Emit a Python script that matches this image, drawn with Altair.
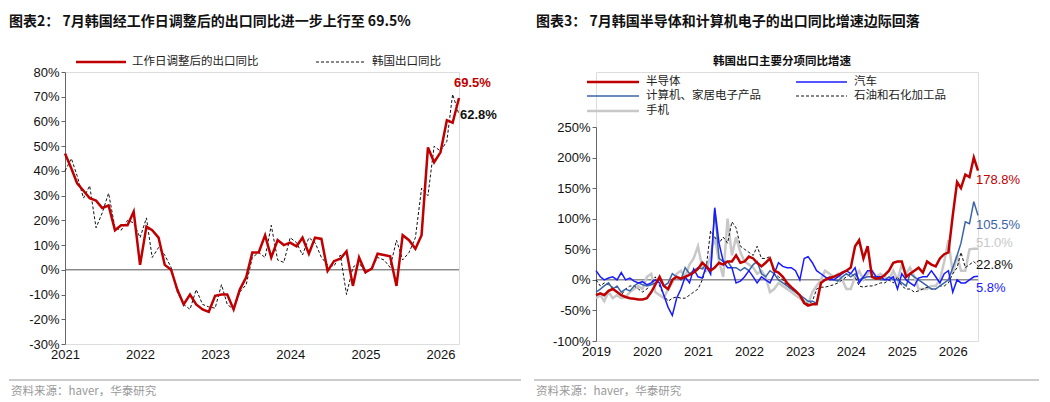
import altair as alt
import pandas as pd

# ---- left panel data (Jan 2021 - Apr 2026, monthly, %)
adj_export = [47, 41, 35, 32, 29, 28, 25, 26, 16, 18, 18, 23.5,
              2, 17.5, 16, 13, 2, 0, -8, -14, -10, -14, -16, -17,
              -10.5, -10, -10, -16, -8, -3, 7, 7, 14, 5, 12, 10,
              11, 9.5, 13, 6.5, 13, 12.5, -0.5, 3.5, 4.5, 7.5, -6.5, 5,
              -1, 0.5, 6.5, 6, 5.5, -6.5, 14, 12, 8.5, 14, 49.5, 43.5,
              47.5, 60.5, 59.5, 69.5]
raw_export = [40, 45, 38, 29, 34, 17, 23, 31, 17, 16, 20, 19,
              13, 21, 5, 9, 6, 1, -9, -14, -16, -8, -14, -15,
              -15.5, -6, -14, -16, -9, -6, 5, 7, 5, 18, 4, 3,
              13, 11, 6, 13, 11, 5, 2, 1.5, 6, -10, 1, 3,
              -1.5, 1, 5, 4, 1, 12, 4, 7, 13, 33, 30, 50,
              48, 52, 71, 62.8]

# ---- right panel data (Jan 2019 - Jul 2026, monthly, %)
semis = [-25, -22, -25, -18, -15, -20, -25, -28, -30, -31, -32, -32,
         -30, -20, -8, 5, -10, -15, 0, 5, 2, 5, 8, 12,
         18, 28, 22, 15, 20, 28, 25, 30, 30, 40, 28, 30,
         38, 35, 28, 22, 28, 35, 15, 12, 5, -5, -12, -18,
         -25, -38, -42, -40, -40, -5, 0, 3, 5, 8, 12, 15,
         20, 55, 65, 35, 55, 5, 2, 3, 8, 15, 28, 30,
         30, 5, 10, 15, 20, 12, 30, 25, 22, 35, 42, 45,
         105, 160, 150, 172, 168, 200, 178.8]
autos = [15, 5, 0, 3, 5, 0, 12, 0, 3, -2, -5, -3,
         -8, -5, 0, -5, -25, -45, -58, -30, -15, 5, -5, 18,
         5, 3, 22, 10, 118, 60, 30, 20, 20, -5, -2, 5,
         15, 5, -5, 5, 0, -5, 10, 28, 22, 20, 20, 15,
         0, 35, 38, 28, 15, 10, 5, 0, 0, 5, 10, 15,
         10, 20, -5, 5, 15, 15, 5, 5, 0, 0, 5, -15,
         10, 0, -5, -10, 3, 5, 5, 15, 5, -5, 10, 15,
         -20, 0, -5, -5, 0, 5, 5.8]
computers = [-20, -15, -10, -5, -15, -10, -20, -15, -18, -10, -5, -8,
             -10, -8, -5, 0, -10, -5, 10, 5, 0, 20, 10, 15,
             20, 18, 25, 10, 115, 35, 30, 30, 20, 20, 15, 20,
             15, 25, 30, 10, 5, 15, 10, 0, -5, -10, -15, -20,
             -25, -30, -35, -35, -38, -5, 0, 5, 0, -2, 5, 10,
             5, 10, 0, 3, 5, 5, 5, 0, 0, 5, 0, 0,
             -5, -10, 10, 5, 0, -5, -10, -15, -15, -10, -5, 0,
             20, 40, 60, 95, 92, 128, 105.5]
petro = [0, -10, -5, -8, -12, -20, -25, -15, -10, -10, -15, -20,
         -15, -5, 5, -10, -25, -35, -30, -28, -30, -30, -25, -20,
         -15, 0, 20, 80, 70, 60, 70, 60, 95, 85, 55, 50,
         45, 40, 55, 35, 35, 38, 10, 5, 0, -10, -15, -20,
         -25, -35, -40, -35, -15, -12, -12, -10, -8, -5, 0, 5,
         10, 5, -10, -12, -10, -10, -8, -5, -5, 0, -5, 5,
         -10, -15, -15, -20, -18, -15, -12, -15, -15, -10, -10, -5,
         10, 20, 45, 20, 25, 30, 22.8]
phones = [-30, -25, -35, -20, -30, -25, -30, -28, -20, -15, -10, -15,
          5, 10, -20, -25, -30, -15, -5, 10, 15, 5, 25, 35,
          55, 20, 15, 40, 70, 30, 5, 100, 40, 70, 45, 30,
          25, 20, 10, 15, 5, -20, -15, -5, -10, -15, -20, -25,
          -30, -35, -40, -20, -10, 0, 15, 10, 5, 10, 0, -15,
          -15, 5, 15, 0, 10, 15, 5, 10, 5, 0, 15, 0,
          25, 10, 20, 5, -15, -15, -15, -10, -10, 0, 30, 65,
          10, 40, 15, 15, 50, 51, 51.0]

FONT = "Noto Sans CJK SC"
NUM = "Liberation Sans"
RED, BLUE, STEEL, GRAY = "#C00000", "#1a1aff", "#3a64a8", "#c8c8c8"

left_dates = pd.date_range("2021-01-01", periods=len(adj_export), freq="MS")
right_dates = pd.date_range("2019-01-01", periods=len(semis), freq="MS")

left_df = pd.concat([
    pd.DataFrame({"date": left_dates, "v": adj_export, "s": "adj"}),
    pd.DataFrame({"date": left_dates, "v": raw_export, "s": "raw"}),
])
right_df = pd.concat([
    pd.DataFrame({"date": right_dates, "v": vals, "s": name})
    for name, vals in [("phones", phones), ("petro", petro), ("computers", computers),
                       ("autos", autos), ("semis", semis)]
])


def text(t, x, y, size=12, color="#222", weight="normal", font=FONT, align="left"):
    return alt.Chart(pd.DataFrame({"t": [t]})).mark_text(
        align=align, baseline="middle", fontSize=size, color=color, fontWeight=weight, font=font
    ).encode(text="t:N", x=alt.value(x), y=alt.value(y))


def seg(x1, x2, y, color, width=2.5, dash=None):
    kw = {"strokeDash": dash} if dash else {}
    return alt.Chart(pd.DataFrame({"a": [0]})).mark_rule(
        color=color, strokeWidth=width, **kw
    ).encode(x=alt.value(x1), x2=alt.value(x2), y=alt.value(y))


def axes(domain, dmin, dmax, step, yrange=None):
    x = alt.X("date:T", scale=alt.Scale(domain=domain), title=None,
              axis=alt.Axis(format="%Y", tickCount="year", grid=False, domain=False, ticks=False,
                            labelFlush=False, labelFont=NUM, labelFontSize=13,
                            labelColor="#111", labelPadding=4))
    sc = dict(domain=[dmin, dmax], nice=False)
    if yrange:
        sc["range"] = yrange
    y = alt.Y("v:Q", scale=alt.Scale(**sc), title=None,
              axis=alt.Axis(values=list(range(dmin, dmax + 1, step)), grid=False, labelOverlap=False,
                            labelExpr="datum.value + '%'", labelFont=NUM, labelFontSize=13,
                            labelColor="#111", domainColor="#666", tickColor="#666", tickSize=4))
    return x, y


# ---- left panel
LW, LH = 394, 272
lx, ly = axes(["2021-01-01", "2026-04-01"], -30, 80, 10)
base_l = alt.Chart(left_df).encode(x=lx, y=ly)
raw_line = base_l.transform_filter("datum.s == 'raw'").mark_line(
    color="#111", strokeWidth=1, strokeDash=[3, 2])
adj_line = base_l.transform_filter("datum.s == 'adj'").mark_line(color=RED, strokeWidth=2.5)
zero_l = alt.Chart(pd.DataFrame({"v": [0]})).mark_rule(color="#555").encode(y=ly)
lab_l = alt.Chart(pd.DataFrame({
    "date": pd.to_datetime(["2026-04-01", "2026-04-01"]), "v": [75.5, 62.5],
    "t": ["69.5%", "62.8%"], "c": [RED, "#111"], "dx": [-5, 1]})).encode(
    x=lx, y=ly, text="t:N", color=alt.Color("c:N", scale=None))
left = alt.layer(
    zero_l, raw_line, adj_line,
    lab_l.transform_filter("datum.dx < 0").mark_text(align="left", dx=-5, fontSize=13, fontWeight="bold", font=NUM),
    lab_l.transform_filter("datum.dx > 0").mark_text(align="left", dx=1, fontSize=13, fontWeight="bold", font=NUM),
    text("图表2：  7月韩国经工作日调整后的出口同比进一步上行至 69.5%", -56, -50, 14, "#111", "bold"),
    seg(11, 61, -10, RED), text("工作日调整后的出口同比", 67, -10, 11.5),
    seg(251, 301, -10, "#111", 1, [3, 2]), text("韩国出口同比", 307, -10, 11.5),
    seg(-56, 456, 308, "#999", 1), text("资料来源：haver，华泰研究", -54, 320, 11.5, "#999"),
).properties(width=LW, height=LH)

# ---- right panel (group top aligned with left plot top; data area starts 55px lower)
RW, RH, OFF = 382, 269, 55
rx, ry = axes(["2019-01-01", "2026-07-01"], -100, 250, 50, [RH, OFF])
base_r = alt.Chart(right_df).encode(x=rx, y=ry)
styles = {"phones": (GRAY, 2.5, None), "petro": ("#111", 1, [3, 2]),
          "computers": (STEEL, 1.5, None), "autos": (BLUE, 1.5, None), "semis": (RED, 2.5, None)}
right_lines = []
for name, (col, w, dash) in styles.items():
    kw = {"strokeDash": dash} if dash else {}
    right_lines.append(base_r.transform_filter(f"datum.s == '{name}'").mark_line(
        color=col, strokeWidth=w, **kw))
zero_r = alt.Chart(pd.DataFrame({"v": [0]})).mark_rule(color="#555").encode(y=ry)
lab_r = alt.Chart(pd.DataFrame({
    "date": pd.to_datetime(["2026-07-01"] * 5), "v": [163, 89, 60, 24, -13],
    "t": ["178.8%", "105.5%", "51.0%", "22.8%", "5.8%"],
    "c": [RED, STEEL, GRAY, "#111", BLUE]})).mark_text(
    align="left", dx=-2, fontSize=13, font=NUM).encode(
    x=rx, y=ry, text="t:N", color=alt.Color("c:N", scale=None))
right = alt.layer(
    zero_r, *right_lines, lab_r,
    text("图表3：  7月韩国半导体和计算机电子的出口同比增速边际回落", -60, -50, 14, "#111", "bold"),
    text("韩国出口主要分项同比增速", 186, -10, 11.5, "#111", "bold", align="center"),
    seg(-9, 43, 10, RED), text("半导体", 50, 10, 11.5),
    seg(200, 251, 10, BLUE, 1.5), text("汽车", 258, 10, 11.5),
    seg(-9, 43, 24, STEEL, 1.5), text("计算机、家居电子产品", 50, 24, 11.5),
    seg(200, 251, 24, "#111", 1, [3, 2]), text("石油和石化加工品", 258, 24, 11.5),
    seg(-9, 43, 39, GRAY), text("手机", 50, 39, 11.5),
    seg(-62, 443, 308, "#999", 1), text("资料来源：haver，华泰研究", -60, 320, 11.5, "#999"),
).properties(width=RW, height=RH)

chart = alt.hconcat(left, right, spacing=137, bounds="flush").configure_view(
    stroke=None).configure(background="white",
                           padding={"top": 6, "left": 0, "right": 0, "bottom": 0})

chart.save("out.html", embed_options={"renderer": "svg", "actions": False})
